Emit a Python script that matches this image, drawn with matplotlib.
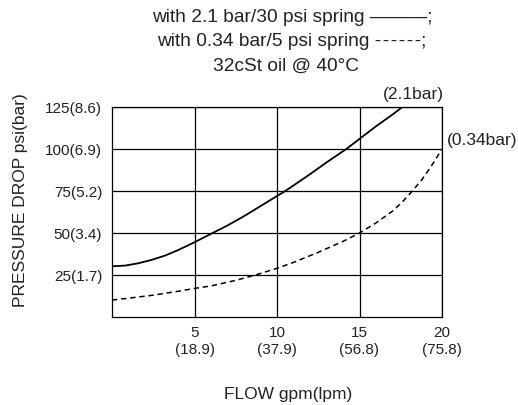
import numpy as np
import matplotlib.pyplot as plt

plt.rcParams['font.family'] = ['Liberation Sans', 'DejaVu Sans']

# values
flow_ticks = [5, 10, 15, 20]
flow_tick_labels = ["5\n(18.9)", "10\n(37.9)", "15\n(56.8)", "20\n(75.8)"]
psi_ticks = [25, 50, 75, 100, 125]
psi_tick_labels = ["25(1.7)", "50(3.4)", "75(5.2)", "100(6.9)", "125(8.6)"]

# 2.1 bar / 30 psi spring (solid)
flow_21 = [0, 0.8, 1.6, 2.4, 3.2, 4, 5, 6.1, 7, 8, 9, 10, 10.5, 11, 12, 13, 14.2, 15, 16, 17, 17.6]
dp_21 = [30.2, 30.6, 32, 34, 36.5, 39.8, 44.5, 50, 54.5, 60, 66, 72, 75, 78.3, 85, 92, 100, 106, 113.5, 120.5, 125]

# 0.34 bar / 5 psi spring (dashed)
flow_034 = [0, 1, 2.5, 4, 5, 6, 7.5, 8.7, 10, 11, 12.5, 14, 15, 16, 17, 17.6, 18.2, 18.8, 19.4, 20]
dp_034 = [10.1, 11.2, 13, 15.3, 17, 18.5, 21.8, 25, 29, 32.5, 38.5, 45, 50, 56, 63, 68.5, 75, 82, 90.5, 100]

fig = plt.figure(figsize=(5.18, 4.06), dpi=100)
ax = fig.add_axes([112/518, 1 - 318/406, 330/518, 210/406])

ax.plot(flow_21, dp_21, color='black', linewidth=1.3)
ax.plot(flow_034, dp_034, color='black', linewidth=1.1, linestyle=(0, (3.5, 2.5)))

ax.set_xlim(0, 20)
ax.set_ylim(0, 125)
ax.set_xticks(flow_ticks)
ax.set_xticklabels(flow_tick_labels, fontsize=11, color='#222222', linespacing=1.35)
ax.set_yticks(psi_ticks)
ax.set_yticklabels(psi_tick_labels, fontsize=11, color='#222222')
ax.tick_params(axis='y', length=0, pad=7)
ax.tick_params(axis='x', length=0, pad=5.5)
ax.grid(True, color='black', linewidth=0.9)
for s in ax.spines.values():
    s.set_linewidth(0.9)

fig.text(288/518, 1 - 395/406, "FLOW gpm(lpm)", ha='center', va='center', fontsize=12.5, color='#222222')
fig.text(21/518, 1 - 200/406, "PRESSURE DROP psi(bar)", ha='center', va='center', rotation=90,
         fontsize=12.5, color='#222222')

fig.text(292/518, 1 - 18/406, "with 2.1 bar/30 psi spring \u2014\u2014\u2014;", ha='center', va='center',
         fontsize=13.8, color='#222222')
fig.text(292/518, 1 - 42/406, "with 0.34 bar/5 psi spring -\u200a-\u200a-\u200a-\u200a-\u200a-;", ha='center', va='center',
         fontsize=13.8, color='#222222')
fig.text(286/518, 1 - 66/406, "32cSt oil @ 40\u00b0C", ha='center', va='center',
         fontsize=13.8, color='#222222')

fig.text(383/518, 1 - 94/406, "(2.1bar)", ha='left', va='center', fontsize=12.5, color='#222222')
fig.text(447/518, 1 - 140/406, "(0.34bar)", ha='left', va='center', fontsize=12.5, color='#222222')

fig.savefig("out.png", dpi=100)
